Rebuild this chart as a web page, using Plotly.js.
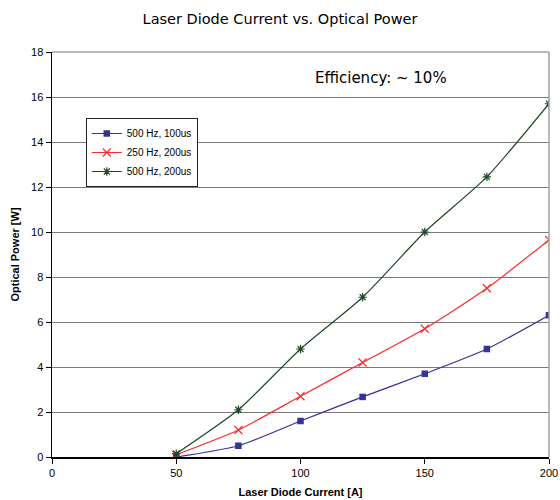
<!DOCTYPE html>
<html><head><meta charset="utf-8">
<script src="https://cdn.plot.ly/plotly-3.0.1.min.js"></script>
<style>body{margin:0}#chart{width:560px;height:500px}</style>
</head><body><div id="chart"></div>
<script>
const current = [50, 75, 100, 125, 150, 175, 200];
const power500_100 = [0.0, 0.5, 1.6, 2.67, 3.7, 4.8, 6.3];
const power250_200 = [0.1, 1.2, 2.7, 4.2, 5.7, 7.5, 9.65];
const power500_200 = [0.15, 2.1, 4.8, 7.1, 10.0, 12.45, 15.7];
const names = ['500 Hz, 100us', '250 Hz, 200us', '500 Hz, 200us'];
const xTicks = [0, 50, 100, 150, 200];
const yTicks = [0, 2, 4, 6, 8, 10, 12, 14, 16, 18];

const traces = [
  {x: current, y: power500_100, name: names[0], mode: 'lines+markers',
   line: {color: '#333399', width: 1.2, shape: 'spline', smoothing: 0.6},
   marker: {symbol: 'square', size: 6.5, color: '#333399'}},
  {x: current, y: power250_200, name: names[1], mode: 'lines+markers',
   line: {color: '#ff2a2a', width: 1.2, shape: 'spline', smoothing: 0.6},
   marker: {symbol: 'x-thin-open', size: 8, color: '#ff2a2a', line: {color: '#ff2a2a', width: 1.2}}},
  {x: current, y: power500_200, name: names[2], mode: 'lines+markers',
   line: {color: '#1e4a28', width: 1.2, shape: 'spline', smoothing: 0.6},
   marker: {symbol: 'asterisk-open', size: 7, color: '#1e4a28', line: {color: '#1e4a28', width: 1.2}}}
];

const layout = {
  width: 560, height: 500,
  margin: {l: 52, r: 11, t: 52, b: 43},
  paper_bgcolor: '#ffffff', plot_bgcolor: '#ffffff',
  font: {family: 'Liberation Sans, Arial, sans-serif', color: '#000', size: 11},
  title: {text: 'Laser Diode Current vs. Optical Power', x: 0.5, xanchor: 'center', y: 0.962, yanchor: 'middle',
          font: {family: 'DejaVu Sans, sans-serif', size: 14.5, color: '#000'}},
  xaxis: {range: [0, 200], tickvals: xTicks, ticks: 'outside', ticklen: 5, tickcolor: '#000',
          showline: true, linecolor: '#000', linewidth: 1.5, showgrid: false, zeroline: false,
          mirror: false, tickfont: {size: 11},
          title: {text: 'Laser Diode Current [A]', font: {size: 11, family: 'Liberation Sans, Arial, sans-serif', weight: 'bold'}, standoff: 10}},
  yaxis: {range: [0, 18], tickvals: yTicks, ticks: 'outside', ticklen: 5, tickcolor: '#000',
          showline: true, linecolor: '#000', linewidth: 1.5, showgrid: true, gridcolor: '#7a7a7a', gridwidth: 1,
          zeroline: false, tickfont: {size: 11},
          title: {text: 'Optical Power [W]', font: {size: 11, family: 'Liberation Sans, Arial, sans-serif', weight: 'bold'}, standoff: 9}},
  shapes: [
    {type: 'line', xref: 'paper', yref: 'paper', x0: 0, x1: 1, y0: 1, y1: 1, line: {color: '#a0a0a0', width: 1.5}},
    {type: 'line', xref: 'paper', yref: 'paper', x0: 1, x1: 1, y0: 0, y1: 1, line: {color: '#a0a0a0', width: 1.5}}
  ],
  annotations: [
    {text: 'Efficiency: ~ 10%', xref: 'paper', yref: 'paper', x: 0.662, y: 0.936, xanchor: 'center', yanchor: 'middle',
     showarrow: false, font: {family: 'DejaVu Sans, sans-serif', size: 15, color: '#000'}}
  ],
  legend: {x: 0.068, y: 0.837, xanchor: 'left', yanchor: 'top', bgcolor: '#ffffff', bordercolor: '#222',
           borderwidth: 1, font: {size: 10, family: 'Liberation Sans, Arial, sans-serif'},
           itemwidth: 30, tracegroupgap: 0},
  showlegend: true
};

Plotly.newPlot('chart', traces, layout, {displayModeBar: false, staticPlot: true});
</script></body></html>
